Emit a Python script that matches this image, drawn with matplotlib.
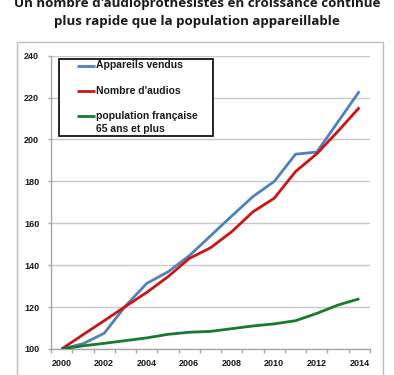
import matplotlib
matplotlib.use("Agg")
import matplotlib.pyplot as plt
from matplotlib.patches import Rectangle
from matplotlib.ticker import MultipleLocator, FixedLocator

years = [2000, 2001, 2002, 2003, 2004, 2005, 2006, 2007, 2008, 2009, 2010, 2011, 2012, 2013, 2014]
appareils = [100, 102.5, 107.5, 120.5, 131.3, 136.8, 144.5, 154, 163.5, 172.8, 180, 193, 194, 208.5, 223]
audios = [100, 106.8, 113.5, 120.3, 127, 134.5, 143.2, 148.3, 156, 165.5, 172, 184.7, 193.2, 204, 215.3]
population = [100, 101.5, 102.7, 104, 105.3, 107, 108, 108.4, 109.7, 111, 112, 113.5, 117, 121, 124]
x_labels = [2000, 2002, 2004, 2006, 2008, 2010, 2012, 2014]
y_ticks = [100, 120, 140, 160, 180, 200, 220, 240]

series_names = ["Appareils vendus", "Nombre d'audios", "population française"]
extra_line = "65 ans et plus"
colors = ["#4F81BD", "#CC1414", "#177A2C"]
title_lines = ["Un nombre d'audioprothésistes en croissance continue",
               "plus rapide que la population appareillable"]

W, H = 394, 375
fig = plt.figure(figsize=(W / 100, H / 100), dpi=100)

# outer chart border
fig.patches.append(Rectangle((16.5 / W, -0.1), (383 - 16.5) / W, 1.1 - 41.5 / H,
                             transform=fig.transFigure, fill=False,
                             edgecolor="#BFBFBF", linewidth=1.0))

ax = fig.add_axes([51 / W, 1 - 349 / H, (370 - 51) / W, (349 - 55.7) / H])
for vals, c in zip([appareils, audios, population], colors):
    ax.plot(years, vals, color=c, linewidth=2.0, solid_capstyle="butt", zorder=3)

ax.set_xlim(1999.5, 2014.5)
ax.set_ylim(100, 240)
ax.set_yticks(y_ticks)
ax.set_xticks(x_labels)
ax.xaxis.set_minor_locator(FixedLocator([y + 0.5 for y in range(1999, 2015)]))
ax.grid(axis="y", color="#C8C8C8", linewidth=1.0)
ax.set_axisbelow(True)
for s in ["top", "right"]:
    ax.spines[s].set_visible(False)
for s in ["left", "bottom"]:
    ax.spines[s].set_color("#A6A6A6")
    ax.spines[s].set_linewidth(1.0)

tick_font = dict(family="Liberation Sans", weight="bold", size=6.5)
ax.tick_params(axis="y", which="major", length=2.5, width=1, color="#A6A6A6", pad=6)
ax.tick_params(axis="x", which="major", length=0, pad=7)
ax.tick_params(axis="x", which="minor", length=3, width=1, color="#A6A6A6")
for lab in ax.get_xticklabels() + ax.get_yticklabels():
    lab.set_fontproperties(matplotlib.font_manager.FontProperties(**tick_font))
    lab.set_color("#1a1a1a")

# legend box (manual, to mimic Excel layout)
def px(xp, yp):
    # convert figure pixel coords to axes fraction
    x0, y0 = 51, 349
    return (xp - x0) / (370 - 51), (y0 - yp) / (349 - 55.7)

bx0, by0 = px(58.5, 135.7)
bx1, by1 = px(212.5, 59)
ax.add_patch(Rectangle((bx0, by0), bx1 - bx0, by1 - by0, transform=ax.transAxes,
                       fill=True, facecolor="white", edgecolor="black",
                       linewidth=1.2, zorder=5))
leg_font = dict(family="Liberation Sans", weight="bold", size=7.5)
ys = [65.5, 91, 116]
for name, c, yp in zip(series_names, colors, ys):
    lx0, ly = px(77, yp)
    lx1, _ = px(95, yp)
    ax.plot([lx0, lx1], [ly, ly], color=c, linewidth=2.0, transform=ax.transAxes,
            zorder=6, solid_capstyle="butt")
    tx, _ = px(96, yp)
    ax.text(tx, ly, name, transform=ax.transAxes, va="center", ha="left",
            zorder=6, color="#1a1a1a", **leg_font)
tx, ty = px(96, 129.5)
ax.text(tx, ty, extra_line, transform=ax.transAxes, va="center", ha="left",
        zorder=6, color="#1a1a1a", **leg_font)

title_font = dict(family="Open Sans", weight="bold", size=9.6)
fig.text(197 / W, 1 - 3.5 / H, title_lines[0], ha="center", va="center",
         color="#1a1a1a", **title_font)
fig.text(197 / W, 1 - 21.5 / H, title_lines[1], ha="center", va="center",
         color="#1a1a1a", **title_font)

fig.savefig("out.png", dpi=100)
